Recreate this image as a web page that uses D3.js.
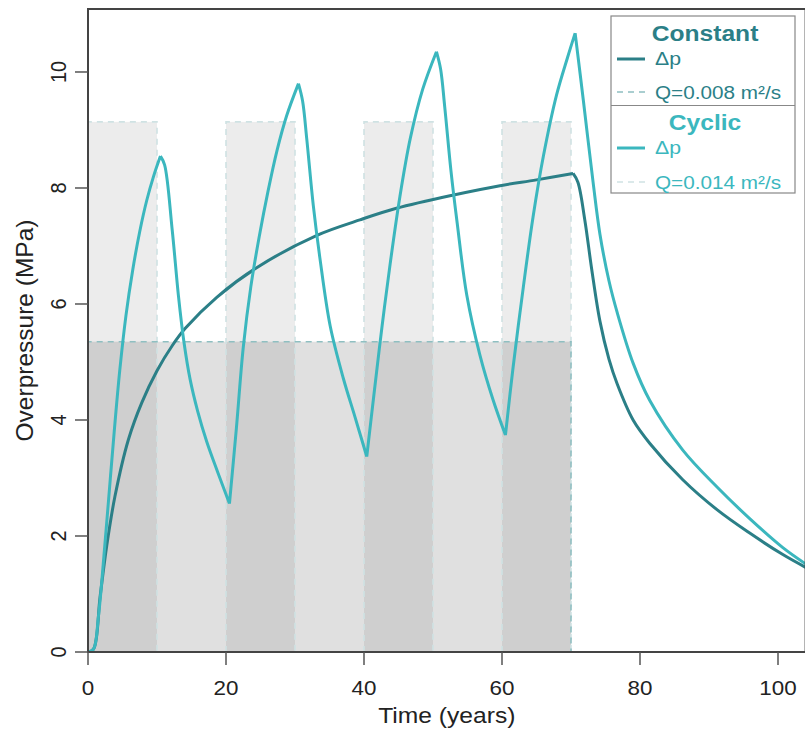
<!DOCTYPE html>
<html><head><meta charset="utf-8">
<script src="https://cdn.jsdelivr.net/npm/d3@7"></script>
<style>body{margin:0;background:#fff}</style>
</head><body><svg id="c" width="805" height="731"></svg>
<script>
// ---- data ----
const constTime = [0,0.8,1.75,2.7,3.9,5.85,7.8,10,12.2,14.1,18.7,24.5,33.1,39.4,44.7,53,59.7,65,70.3,71.0,72.0,73.0,74.2,75.5,76.7,79.0,81.4,86.2,91.2,95.9,100.7,104];
const constDp   = [0,0.05,0.95,1.82,2.68,3.66,4.3,4.85,5.28,5.58,6.12,6.63,7.18,7.45,7.65,7.88,8.04,8.14,8.25,8.1,7.45,6.6,5.7,5.05,4.62,4.0,3.6,2.97,2.45,2.05,1.68,1.46];
const cycTime = [0,0.8,1.5,2.2,3.0,3.8,4.6,5.5,6.5,7.5,8.5,9.5,10.5,
  11.1,12.2,13.1,13.9,14.8,15.9,17.2,18.8,20.5,
  21.5,22.5,23.6,24.8,26.1,27.4,28.8,30.5,
  31.1,31.7,32.65,33.6,35.1,37.0,38.7,40.4,
  41.5,42.6,43.8,45.2,46.7,48.5,50.5,
  51.1,51.7,52.6,53.5,54.9,56.8,58.7,60.5,
  61.6,63.1,64.5,66.0,67.9,69.5,70.6,
  71.8,73.2,74.2,75.5,76.7,79.0,81.4,86.2,91.2,95.9,100.7,104];
const cycDp   = [0,0.05,0.6,1.5,2.65,3.8,4.85,5.8,6.6,7.25,7.78,8.2,8.55,
  8.4,7.28,6.15,5.35,4.7,4.15,3.63,3.1,2.56,
  3.85,5.25,6.3,7.15,7.95,8.65,9.25,9.8,
  9.5,8.85,7.7,6.8,5.62,4.72,4.05,3.37,
  4.5,5.6,6.7,7.85,8.85,9.7,10.35,
  10.05,9.4,8.3,7.4,6.15,5.12,4.35,3.74,
  4.9,6.3,7.5,8.55,9.6,10.25,10.67,
  9.5,8.1,7.2,6.4,5.85,4.98,4.34,3.48,2.84,2.3,1.8,1.52];
const xTicks = [0,20,40,60,80,100];
const yTicks = [0,2,4,6,8,10];
const constantPeriods = [[0,70]];
const cyclicPeriods = [[0,10],[20,30],[40,50],[60,70]];
const constantQLevel = 5.35;   // plotted height of Q = 0.008 m³/s
const cyclicQLevel = 9.14;     // plotted height of Q = 0.014 m³/s
const legendTitles = ["Constant","Cyclic"];
const legendQ = ["Q=0.008 m\u00B2/s","Q=0.014 m\u00B2/s"];

// ---- styles ----
const colConst = "#2b7f87", colCyc = "#3bb7be";
const dashConst = "#8fbfc1", dashCyc = "#cfe2e3";
const FONT = "'Liberation Sans', Arial, Helvetica, sans-serif";
const SX = 1.12;

const svg = d3.select("#c");
const x = d3.scaleLinear().domain([0,104]).range([88,805.6]);
const y = d3.scaleLinear().domain([0,11.086]).range([652,9]);

svg.append("defs").append("clipPath").attr("id","plot")
  .append("rect").attr("x",x(0)).attr("y",y(11.086)).attr("width",x(104)-x(0)).attr("height",y(0)-y(11.086));
const g = svg.append("g").attr("clip-path","url(#plot)");

// shaded injection periods
g.selectAll(".cq").data(constantPeriods).join("rect")
  .attr("x",d=>x(d[0])).attr("width",d=>x(d[1])-x(d[0]))
  .attr("y",y(constantQLevel)).attr("height",y(0)-y(constantQLevel))
  .attr("fill","#000").attr("fill-opacity",0.12);
g.selectAll(".yq").data(cyclicPeriods).join("rect")
  .attr("x",d=>x(d[0])).attr("width",d=>x(d[1])-x(d[0]))
  .attr("y",y(cyclicQLevel)).attr("height",y(0)-y(cyclicQLevel))
  .attr("fill","#000").attr("fill-opacity",0.075);

const stepPath = (d,lvl)=>`M${x(d[0])},${y(0)}L${x(d[0])},${y(lvl)}L${x(d[1])},${y(lvl)}L${x(d[1])},${y(0)}`;
g.selectAll(".yd").data(cyclicPeriods).join("path")
  .attr("d",d=>stepPath(d,cyclicQLevel)).attr("fill","none")
  .attr("stroke",dashCyc).attr("stroke-width",1.6).attr("stroke-dasharray","6,5");
g.selectAll(".cd").data(constantPeriods).join("path")
  .attr("d",d=>stepPath(d,constantQLevel)).attr("fill","none")
  .attr("stroke",dashConst).attr("stroke-width",1.6).attr("stroke-dasharray","6,5");

// curves: smooth within monotone pieces, sharp at turning points
function pieces(ts, vs){
  const pts = ts.map((t,i)=>[t,vs[i]]);
  const out = []; let cur = [pts[0]];
  for (let i=1;i<pts.length;i++){
    cur.push(pts[i]);
    if (i<pts.length-1){
      const a = pts[i][1]-pts[i-1][1], b = pts[i+1][1]-pts[i][1];
      if (a*b<0){ out.push(cur); cur=[pts[i]]; }
    }
  }
  out.push(cur); return out;
}
const line = d3.line().x(d=>x(d[0])).y(d=>y(d[1])).curve(d3.curveCatmullRom.alpha(0.5));
const pathOf = segs => segs.map(s=>line(s)).join("");
g.append("path").attr("d",pathOf(pieces(constTime,constDp)))
  .attr("fill","none").attr("stroke",colConst).attr("stroke-width",3).attr("stroke-linejoin","round");
g.append("path").attr("d",pathOf(pieces(cycTime,cycDp)))
  .attr("fill","none").attr("stroke",colCyc).attr("stroke-width",3).attr("stroke-linejoin","round");

// frame
svg.append("rect").attr("x",x(0)).attr("y",y(11.086)).attr("width",x(104)-x(0)).attr("height",y(0)-y(11.086))
  .attr("fill","none").attr("stroke","#444").attr("stroke-width",2);

// axes
svg.selectAll(".xt").data(xTicks).join("line")
  .attr("x1",d=>x(d)).attr("x2",d=>x(d)).attr("y1",652).attr("y2",665)
  .attr("stroke","#555").attr("stroke-width",1.5);
svg.selectAll(".xl").data(xTicks).join("text")
  .attr("transform",d=>`translate(${x(d)},695) scale(${SX},1)`)
  .attr("text-anchor","middle").attr("font-family",FONT).attr("font-size",20).attr("fill","#222")
  .text(d=>d);
svg.selectAll(".yt").data(yTicks).join("line")
  .attr("x1",75).attr("x2",88).attr("y1",d=>y(d)).attr("y2",d=>y(d))
  .attr("stroke","#555").attr("stroke-width",1.5);
svg.selectAll(".yl").data(yTicks).join("text")
  .attr("transform",d=>`translate(66,${y(d)}) scale(${SX},1) rotate(-90)`)
  .attr("text-anchor","middle").attr("font-family",FONT).attr("font-size",20).attr("fill","#222")
  .text(d=>d);
svg.append("text").attr("transform",`translate(${x(52)},723) scale(${SX},1)`)
  .attr("text-anchor","middle").attr("font-family",FONT).attr("font-size",22).attr("fill","#222")
  .text("Time (years)");
svg.append("text").attr("transform",`translate(33,${(652+9)/2}) scale(1.0,1) rotate(-90)`)
  .attr("text-anchor","middle").attr("font-family",FONT).attr("font-size",24.5).attr("fill","#222")
  .text("Overpressure (MPa)");

// legend
const lg = svg.append("g");
lg.append("rect").attr("x",611).attr("y",16).attr("width",184).attr("height",177)
  .attr("fill","#fff").attr("stroke","#888").attr("stroke-width",1.2);
lg.append("line").attr("x1",611).attr("x2",795).attr("y1",105.5).attr("y2",105.5)
  .attr("stroke","#888").attr("stroke-width",1.2);
const secs = [
  {title:legendTitles[0], q:legendQ[0], col:colConst, dash:dashConst, ty:41, ly:59, qy:92},
  {title:legendTitles[1], q:legendQ[1], col:colCyc, dash:dashCyc, ty:130, ly:148, qy:182}
];
secs.forEach(s=>{
  lg.append("text").attr("transform",`translate(705,${s.ty}) scale(${SX},1)`)
    .attr("text-anchor","middle").attr("font-family",FONT).attr("font-weight","bold")
    .attr("font-size",22).attr("fill",s.col).text(s.title);
  lg.append("line").attr("x1",617).attr("x2",645).attr("y1",s.ly).attr("y2",s.ly)
    .attr("stroke",s.col).attr("stroke-width",3);
  lg.append("text").attr("transform",`translate(655,${s.ly+6}) scale(${SX},1)`)
    .attr("font-family",FONT).attr("font-size",19).attr("fill",s.col).text("\u0394p");
  lg.append("line").attr("x1",617).attr("x2",645).attr("y1",s.qy).attr("y2",s.qy)
    .attr("stroke",s.dash).attr("stroke-width",1.6).attr("stroke-dasharray","6,5");
  lg.append("text").attr("transform",`translate(655,${s.qy+7}) scale(${SX},1)`)
    .attr("font-family",FONT).attr("font-size",18.5).attr("fill",s.col).text(s.q);
});
</script></body></html>
